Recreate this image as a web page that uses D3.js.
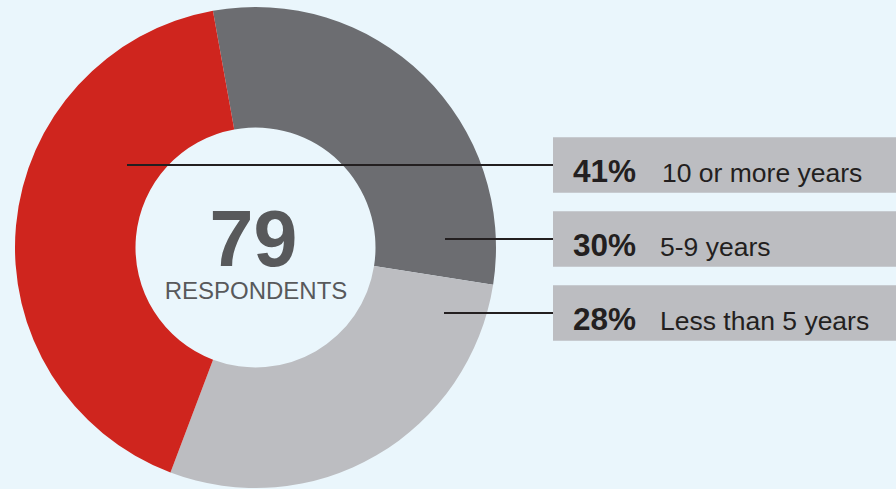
<!DOCTYPE html>
<html lang="en">
  <head>
    <meta charset="utf-8"/>
    <title>Respondents by years</title>
    <script src="https://d3js.org/d3.v7.min.js"></script>
    <style>
      html, body { margin: 0; padding: 0; background: #eaf6fc; }
      svg { display: block; font-family: "Liberation Sans", Arial, sans-serif; }
    </style>
  </head>
  <body>
    <div id="chart"></div>
<script>
  // data (drawing order: clockwise from the top)
  const categories = ["5-9 years", "Less than 5 years", "10 or more years"];
  const shares = [30, 28, 41];
  const sliceColors = ["#6c6d71", "#bcbdc1", "#cf251e"];

  // legend rows, top to bottom
  const legendLabels = ["10 or more years", "5-9 years", "Less than 5 years"];
  const legendShares = [41, 30, 28];
  const totalRespondents = 79;

  const width = 896;
  const height = 489;
  const cx = 255.5, cy = 247.5;
  const outerR = 240.5, innerR = 120;
  // where each leader line starts, relative to the donut centre
  const leaderStartDx = [-128.5, 189.5, 188.5];

  const svg = d3.select("#chart").append("svg")
      .attr("width", width)
      .attr("height", height)
      .attr("viewBox", [0, 0, width, height]);

  svg.append("rect")
      .attr("width", width)
      .attr("height", height)
      .attr("fill", "#eaf6fc");

  const startDeg = -10.2;
  const pie = d3.pie()
      .sort(null)
      .startAngle(startDeg * Math.PI / 180)
      .endAngle((360 + startDeg) * Math.PI / 180);

  const arc = d3.arc().innerRadius(innerR).outerRadius(outerR);

  const donut = svg.append("g").attr("transform", `translate(${cx},${cy})`);
  donut.selectAll("path")
    .data(pie(shares))
    .join("path")
      .attr("d", arc)
      .attr("fill", (d, i) => sliceColors[i]);

  // centre text
  donut.append("text")
      .attr("x", -2)
      .attr("y", 18)
      .attr("text-anchor", "middle")
      .attr("font-weight", "bold")
      .attr("font-size", 79)
      .attr("fill", "#58595b")
      .text(totalRespondents);

  donut.append("text")
      .attr("x", 0.5)
      .attr("y", 51)
      .attr("text-anchor", "middle")
      .attr("font-size", 24)
      .attr("fill", "#58595b")
      .text("RESPONDENTS");

  // legend boxes
  const y = d3.scaleBand()
      .domain(legendLabels)
      .range([128, 350])
      .paddingInner(0.25)
      .paddingOuter(0.125);

  const boxX = 553;

  const rows = svg.append("g")
    .selectAll("g")
    .data(legendLabels)
    .join("g");

  rows.append("rect")
      .attr("x", boxX)
      .attr("y", d => y(d))
      .attr("width", width - boxX)
      .attr("height", y.bandwidth())
      .attr("fill", "#bcbdc1");

  rows.append("line")
      .attr("x1", (d, i) => cx + leaderStartDx[i])
      .attr("x2", boxX)
      .attr("y1", d => y(d) + y.bandwidth() / 2)
      .attr("y2", d => y(d) + y.bandwidth() / 2)
      .attr("stroke", "#231f20")
      .attr("stroke-width", 2);

  rows.append("text")
      .attr("x", 573)
      .attr("y", d => y(d) + y.bandwidth() / 2 + 16.5)
      .attr("font-weight", "bold")
      .attr("font-size", 31.5)
      .attr("fill", "#231f20")
      .text((d, i) => legendShares[i] + "%");

  rows.append("text")
      .attr("x", (d, i) => i === 0 ? 662 : 660)
      .attr("y", d => y(d) + y.bandwidth() / 2 + 16.5)
      .attr("font-size", 26.5)
      .attr("fill", "#231f20")
      .text(d => d);
</script>
  </body>
</html>
